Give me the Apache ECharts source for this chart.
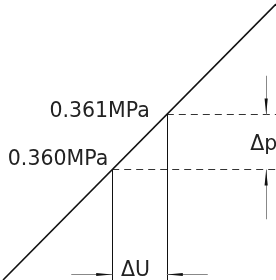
<!DOCTYPE html>
<html lang="en">
<head>
  <meta charset="UTF-8">
  <title>p-U</title>
  <script src="https://cdn.jsdelivr.net/npm/echarts@6/dist/echarts.min.js"></script>
  <style>
    html, body { margin: 0; padding: 0; background: #fff; }
    #main { width: 276px; height: 280px; }
  </style>
</head>
<body>
<div id="main"></div>
<script>
  // 压力 - 信号 标定关系
  var pressure = [0.360, 0.361];        // MPa
  var signal = [2, 3];                  // U
  var lineU = [0, 5];
  var lineP = [0.358, 0.363];
  var pLabels = ['0.360MPa', '0.361MPa'];
  var deltaLabels = ['ΔU', 'Δp'];
  // 尺寸标注箭头
  var arrowP = 0.3581;                  // ΔU 箭头所在高度
  var arrowUFrom = [1.25, 3.75];
  var arrowU = 4.82;                    // Δp 箭头所在位置
  var arrowPFrom = [0.3591, 0.3617];

  var xMin = 0, xMax = 5, yMin = 0.358, yMax = 0.363;
  var font = 'DejaVu Sans, Verdana, sans-serif';
  var head = 'path://M0,0M32,32M16,16L17.6,32L14.4,32Z';

  var diag = lineU.map(function (u, i) { return [u, lineP[i]]; });
  var dashed = [], verticals = [], arrows = [];
  for (var i = 0; i < pressure.length; i++) {
    dashed.push({ coords: [[signal[i], pressure[i]], [xMax, pressure[i]]] });
    verticals.push({ coords: [[signal[i], pressure[i]], [signal[i], yMin]] });
  }
  arrows.push({ coords: [[arrowUFrom[0], arrowP], [signal[0], arrowP]] });
  arrows.push({ coords: [[arrowUFrom[1], arrowP], [signal[1], arrowP]] });
  arrows.push({ coords: [[arrowU, arrowPFrom[0]], [arrowU, pressure[0]]] });
  arrows.push({ coords: [[arrowU, arrowPFrom[1]], [arrowU, pressure[1]]] });

  var labelBase = {
    show: true, position: 'inside', verticalAlign: 'middle',
    fontFamily: font, fontSize: 20.5, color: '#222', textBorderWidth: 0
  };

  var chart = echarts.init(document.getElementById('main'));
  var option = {
    animation: false,
    grid: { left: 3, top: 4, width: 280, height: 280 },
    xAxis: { type: 'value', min: xMin, max: xMax, show: false },
    yAxis: { type: 'value', min: yMin, max: yMax, show: false },
    series: [
      {
        type: 'line', data: diag, symbol: 'none',
        lineStyle: { color: '#111', width: 1.6 }
      },
      {
        type: 'lines', coordinateSystem: 'cartesian2d', data: dashed,
        lineStyle: { color: '#333', width: 1, type: [7, 5], opacity: 1 }
      },
      {
        type: 'lines', coordinateSystem: 'cartesian2d', data: verticals,
        lineStyle: { color: '#111', width: 1, opacity: 1 }
      },
      {
        type: 'lines', coordinateSystem: 'cartesian2d', data: arrows,
        lineStyle: { color: '#888', width: 1, opacity: 1 }
      },
      {
        type: 'lines', coordinateSystem: 'cartesian2d', data: arrows,
        symbol: ['none', head], symbolSize: 32,
        lineStyle: { color: '#111', width: 0, opacity: 1 }
      },
      {
        type: 'scatter', symbolSize: 0, itemStyle: { opacity: 1 },
        data: [
          { value: [signal[0], pressure[0]], label: { formatter: pLabels[0], offset: [-4, -10] } },
          { value: [signal[1], pressure[1]], label: { formatter: pLabels[1], offset: [-17, -3] } }
        ],
        label: Object.assign({}, labelBase, { align: 'right' })
      },
      {
        type: 'scatter', symbolSize: 0, itemStyle: { opacity: 1 },
        data: [
          { value: [(signal[0] + signal[1]) / 2, arrowP], label: { formatter: deltaLabels[0], align: 'center', offset: [-4, -4] } },
          { value: [arrowU, (pressure[0] + pressure[1]) / 2], label: { formatter: deltaLabels[1], align: 'left', offset: [-16, 3] } }
        ],
        label: labelBase
      }
    ]
  };
  chart.setOption(option);
</script>
</body>
</html>
